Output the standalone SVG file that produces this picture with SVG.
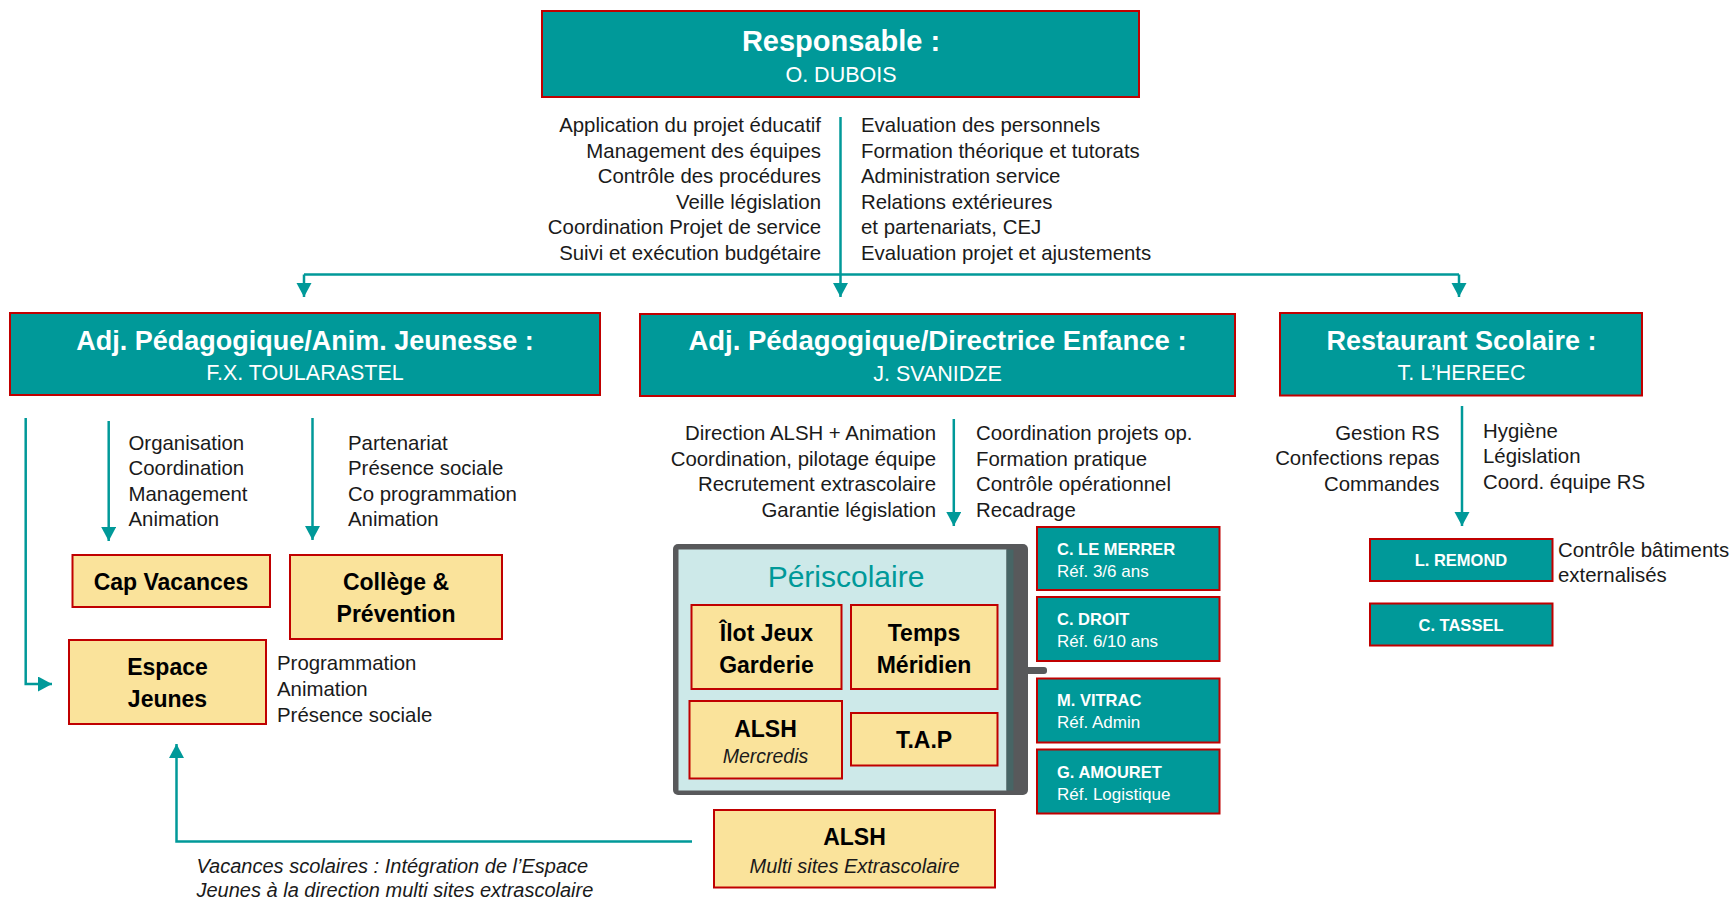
<svg xmlns="http://www.w3.org/2000/svg" width="1735" height="900" viewBox="0 0 1735 900">
<defs>
<marker id="ah" markerUnits="userSpaceOnUse" markerWidth="16" markerHeight="16" refX="14" refY="7.5" orient="auto">
<path d="M0,0 L14,7.5 L0,15 z" fill="#009999"/>
</marker>
<style>
.teal{fill:#009999;stroke:#C00000;stroke-width:2}
.yel{fill:#FAE39B;stroke:#C00000;stroke-width:2}
.hd{font-family:"Liberation Sans",Arial,sans-serif;font-weight:bold;font-size:27px;fill:#fff;text-anchor:middle}
.nm{font-family:"Liberation Sans",Arial,sans-serif;font-size:21.5px;fill:#fff;text-anchor:middle}
.bd{font-family:"Liberation Sans",Arial,sans-serif;font-size:20.4px;fill:#1a1a1a}
.r{text-anchor:end}
.yb{font-family:"Liberation Sans",Arial,sans-serif;font-weight:bold;font-size:23px;fill:#000;text-anchor:middle}
.yi{font-family:"Liberation Sans",Arial,sans-serif;font-style:italic;font-size:19.5px;fill:#1a1a1a;text-anchor:middle}
.tb{font-family:"Liberation Sans",Arial,sans-serif;font-weight:bold;font-size:16.5px;fill:#fff}
.tr{font-family:"Liberation Sans",Arial,sans-serif;font-size:17px;fill:#fff}
.it{font-family:"Liberation Sans",Arial,sans-serif;font-style:italic;font-size:20px;fill:#1a1a1a}
.cn{fill:none;stroke:#009999;stroke-width:2.5}
</style>
</defs>
<rect width="1735" height="900" fill="#fff"/>

<g id="connectors">
<line class="cn" x1="840.5" y1="117" x2="840.5" y2="297" marker-end="url(#ah)"/>
<line class="cn" x1="304" y1="274.5" x2="1459" y2="274.5"/>
<line class="cn" x1="304" y1="274.5" x2="304" y2="297" marker-end="url(#ah)"/>
<line class="cn" x1="1459" y1="274.5" x2="1459" y2="297" marker-end="url(#ah)"/>
<polyline class="cn" points="25.7,418 25.7,684 52,684" marker-end="url(#ah)"/>
<line class="cn" x1="108.7" y1="421" x2="108.7" y2="541" marker-end="url(#ah)"/>
<line class="cn" x1="312.5" y1="418" x2="312.5" y2="540" marker-end="url(#ah)"/>
<line class="cn" x1="953.8" y1="419" x2="953.8" y2="526" marker-end="url(#ah)"/>
<line class="cn" x1="1462" y1="406" x2="1462" y2="526" marker-end="url(#ah)"/>
<polyline class="cn" points="692,841.5 176.5,841.5 176.5,744" marker-end="url(#ah)"/>
</g>

<g id="responsable">
<rect class="teal" x="542" y="11" width="597" height="86"/>
<text class="hd" x="841" y="51" style="font-size:29px">Responsable :</text>
<text class="nm" x="841" y="82">O. DUBOIS</text>
</g>
<g id="resp-missions">
<text class="bd r" x="821" y="132">Application du projet éducatif</text>
<text class="bd r" x="821" y="157.5">Management des équipes</text>
<text class="bd r" x="821" y="183">Contrôle des procédures</text>
<text class="bd r" x="821" y="208.5">Veille législation</text>
<text class="bd r" x="821" y="234">Coordination Projet de service</text>
<text class="bd r" x="821" y="259.5">Suivi et exécution budgétaire</text>
<text class="bd" x="861" y="132">Evaluation des personnels</text>
<text class="bd" x="861" y="157.5">Formation théorique et tutorats</text>
<text class="bd" x="861" y="183">Administration service</text>
<text class="bd" x="861" y="208.5">Relations extérieures</text>
<text class="bd" x="861" y="234">et partenariats, CEJ</text>
<text class="bd" x="861" y="259.5">Evaluation projet et ajustements</text>
</g>

<g id="adj-jeunesse">
<rect class="teal" x="10" y="313" width="590" height="82"/>
<text class="hd" x="305" y="349.5">Adj. Pédagogique/Anim. Jeunesse :</text>
<text class="nm" x="305" y="380">F.X. TOULARASTEL</text>
</g>
<g id="jeunesse-missions">
<text class="bd" x="128.5" y="450">Organisation</text>
<text class="bd" x="128.5" y="475">Coordination</text>
<text class="bd" x="128.5" y="500.5">Management</text>
<text class="bd" x="128.5" y="526">Animation</text>
<text class="bd" x="348" y="450">Partenariat</text>
<text class="bd" x="348" y="475">Présence sociale</text>
<text class="bd" x="348" y="500.5">Co programmation</text>
<text class="bd" x="348" y="526">Animation</text>
</g>
<g id="cap-vacances">
<rect class="yel" x="72.5" y="555" width="197.5" height="52"/>
<text class="yb" x="171" y="590">Cap Vacances</text>
</g>
<g id="college">
<rect class="yel" x="290" y="555" width="212" height="84"/>
<text class="yb" x="396" y="590">Collège &amp;</text>
<text class="yb" x="396" y="622">Prévention</text>
</g>
<g id="espace-jeunes">
<rect class="yel" x="69" y="640" width="197" height="84"/>
<text class="yb" x="167.5" y="675">Espace</text>
<text class="yb" x="167.5" y="706.5">Jeunes</text>
<text class="bd" x="277" y="670">Programmation</text>
<text class="bd" x="277" y="696">Animation</text>
<text class="bd" x="277" y="722">Présence sociale</text>
</g>
<g id="note-vacances">
<text class="it" x="196.5" y="872.5">Vacances scolaires : Intégration de l’Espace</text>
<text class="it" x="196.5" y="896.5">Jeunes à la direction multi sites extrascolaire</text>
</g>

<g id="adj-enfance">
<rect class="teal" x="640" y="314" width="595" height="82"/>
<text class="hd" x="937.5" y="350" style="font-size:27.5px">Adj. Pédagogique/Directrice Enfance :</text>
<text class="nm" x="937.5" y="381">J. SVANIDZE</text>
</g>
<g id="enfance-missions">
<text class="bd r" x="936" y="440">Direction ALSH + Animation</text>
<text class="bd r" x="936" y="465.5">Coordination, pilotage équipe</text>
<text class="bd r" x="936" y="491">Recrutement extrascolaire</text>
<text class="bd r" x="936" y="516.5">Garantie législation</text>
<text class="bd" x="976" y="440">Coordination projets op.</text>
<text class="bd" x="976" y="465.5">Formation pratique</text>
<text class="bd" x="976" y="491">Contrôle opérationnel</text>
<text class="bd" x="976" y="516.5">Recadrage</text>
</g>
<g id="periscolaire">
<rect x="1022" y="667" width="25" height="7" rx="3" fill="#58595B"/>
<rect x="673" y="544" width="355" height="251" rx="5" fill="#58595B"/>
<rect x="678.5" y="549.5" width="328" height="241" fill="#CDE9E9"/>
<rect x="1006.5" y="549.5" width="7" height="241" fill="#476565"/>
<text x="846" y="587" style="font-family:'Liberation Sans',Arial,sans-serif;font-size:30px;fill:#009999;text-anchor:middle">Périscolaire</text>
</g>
<g id="ilot-jeux">
<rect class="yel" x="691.5" y="605" width="150" height="84"/>
<text class="yb" x="766.5" y="641">Îlot Jeux</text>
<text class="yb" x="766.5" y="673">Garderie</text>
</g>
<g id="temps-meridien">
<rect class="yel" x="851" y="605" width="146.5" height="84"/>
<text class="yb" x="924" y="641">Temps</text>
<text class="yb" x="924" y="673">Méridien</text>
</g>
<g id="alsh-mercredis">
<rect class="yel" x="689.5" y="701" width="152.5" height="77.5"/>
<text class="yb" x="765.5" y="736.5">ALSH</text>
<text class="yi" x="765.5" y="763">Mercredis</text>
</g>
<g id="tap">
<rect class="yel" x="851" y="713" width="146.5" height="52.5"/>
<text class="yb" x="924" y="748">T.A.P</text>
</g>
<g id="alsh-extrascolaire">
<rect class="yel" x="714" y="810" width="281" height="77.5"/>
<text class="yb" x="854.5" y="845">ALSH</text>
<text class="yi" x="854.5" y="872.5" style="font-size:20px">Multi sites Extrascolaire</text>
</g>
<g id="le-merrer">
<rect class="teal" x="1037" y="527" width="182.5" height="63"/>
<text class="tb" x="1057" y="555">C. LE MERRER</text>
<text class="tr" x="1057" y="577">Réf. 3/6 ans</text>
</g>
<g id="droit">
<rect class="teal" x="1037" y="597" width="182.5" height="64"/>
<text class="tb" x="1057" y="625">C. DROIT</text>
<text class="tr" x="1057" y="647">Réf. 6/10 ans</text>
</g>
<g id="vitrac">
<rect class="teal" x="1037" y="678.5" width="182.5" height="64"/>
<text class="tb" x="1057" y="706">M. VITRAC</text>
<text class="tr" x="1057" y="728">Réf. Admin</text>
</g>
<g id="amouret">
<rect class="teal" x="1037" y="749.5" width="182.5" height="64"/>
<text class="tb" x="1057" y="777.5">G. AMOURET</text>
<text class="tr" x="1057" y="799.5">Réf. Logistique</text>
</g>

<g id="restaurant">
<rect class="teal" x="1280" y="313" width="362" height="82.5"/>
<text class="hd" x="1461.5" y="350">Restaurant Scolaire :</text>
<text class="nm" x="1461.5" y="380">T. L’HEREEC</text>
</g>
<g id="restaurant-missions">
<text class="bd r" x="1439.5" y="440">Gestion RS</text>
<text class="bd r" x="1439.5" y="465">Confections repas</text>
<text class="bd r" x="1439.5" y="490.5">Commandes</text>
<text class="bd" x="1483" y="437.5">Hygiène</text>
<text class="bd" x="1483" y="463">Législation</text>
<text class="bd" x="1483" y="488.5">Coord. équipe RS</text>
</g>
<g id="remond">
<rect class="teal" x="1370" y="539" width="182.5" height="42"/>
<text class="tb" x="1461" y="566" style="text-anchor:middle">L. REMOND</text>
<text class="bd" x="1558" y="556.5">Contrôle bâtiments</text>
<text class="bd" x="1558" y="581.5">externalisés</text>
</g>
<g id="tassel">
<rect class="teal" x="1370" y="603.5" width="182.5" height="42"/>
<text class="tb" x="1461" y="631" style="text-anchor:middle">C. TASSEL</text>
</g>
</svg>
